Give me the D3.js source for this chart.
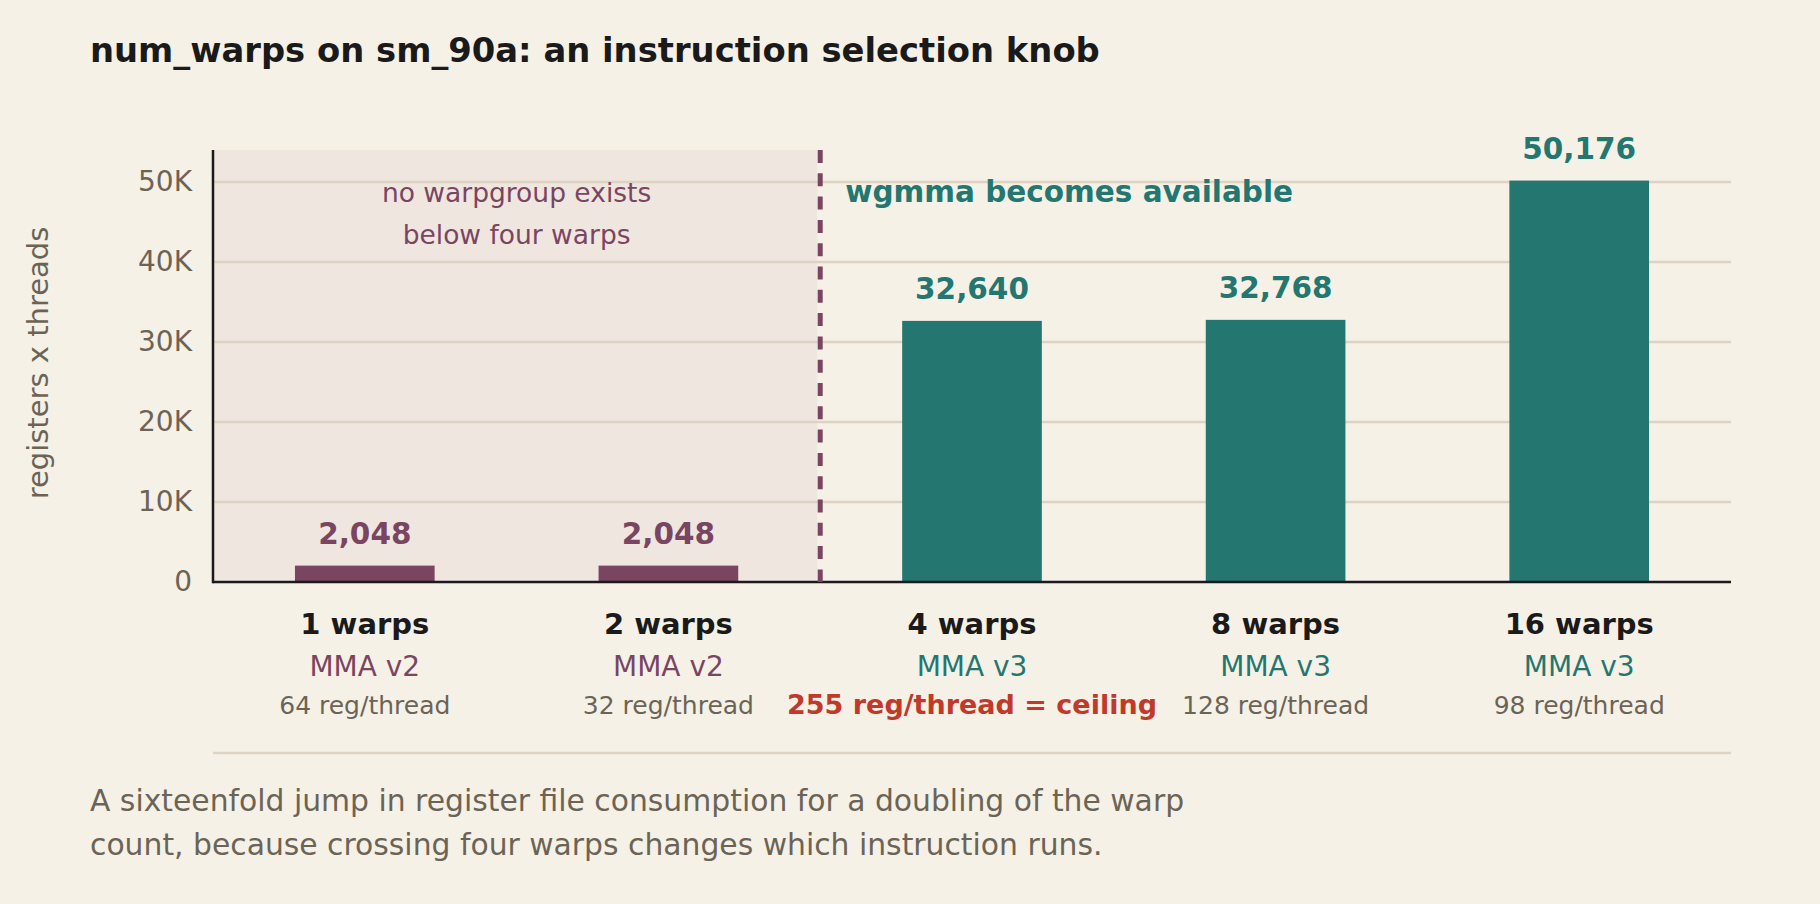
<!DOCTYPE html>
<html>
<head>
<meta charset="utf-8">
<script src="https://cdn.jsdelivr.net/npm/d3@7"></script>
<style>
  html, body { margin: 0; padding: 0; background: #f6f1e7; }
  svg { display: block; font-family: "DejaVu Sans", sans-serif; }
</style>
</head>
<body>
<div id="svg-container"></div>
<script>
// data
const warps = ["1 warps", "2 warps", "4 warps", "8 warps", "16 warps"];
const regFile = [2048, 2048, 32640, 32768, 50176];
const mmaVersion = ["MMA v2", "MMA v2", "MMA v3", "MMA v3", "MMA v3"];
const regPerThread = [64, 32, 255, 128, 98];
const regCeiling = 255;
const yTicks = [0, 10000, 20000, 30000, 40000, 50000];

const width = 1820, height = 904;
const margin = { top: 150, right: 89, bottom: 322, left: 213 };

const purple = "#7a4561", teal = "#237770", red = "#c0392b";
const ink = "#1a1a1a", muted = "#6b6456", grid = "#ddd3c0";

const svg = d3.select("#svg-container").append("svg")
    .attr("width", width).attr("height", height);

svg.append("rect").attr("width", width).attr("height", height).attr("fill", "#f6f1e7");

// scales
const xScale = d3.scaleBand().domain(warps)
    .range([margin.left, width - margin.right])
    .paddingInner(0.54).paddingOuter(0.27);
const yScale = d3.scaleLinear().domain([0, 54000])
    .range([height - margin.bottom, margin.top]);
const colorOf = (v) => v === "MMA v2" ? purple : teal;

const rows = warps.map((w, i) => ({ w, v: regFile[i], mma: mmaVersion[i], reg: regPerThread[i] }));

// shaded region: before warpgroups exist
const splitX = xScale(warps[2]) - xScale.step() * xScale.paddingInner() / 2;
svg.append("rect")
    .attr("x", margin.left).attr("y", margin.top)
    .attr("width", splitX - 3 - margin.left)
    .attr("height", yScale(0) - margin.top)
    .attr("fill", "#efe6e0");

// grid
svg.append("g").selectAll("line")
    .data(yTicks.filter((d) => d > 0))
    .join("line")
    .attr("x1", margin.left).attr("x2", width - margin.right)
    .attr("y1", (d) => yScale(d)).attr("y2", (d) => yScale(d))
    .attr("stroke", grid).attr("stroke-width", 2.5);

// y axis
const yAxis = d3.axisLeft(yScale).tickValues(yTicks)
    .tickFormat((d) => d === 0 ? "0" : d / 1000 + "K")
    .tickSize(0).tickPadding(21);
const gy = svg.append("g").attr("transform", `translate(${margin.left},0)`).call(yAxis);
gy.select(".domain").remove();
gy.selectAll("text").attr("fill", muted).attr("font-size", 28).attr("font-family", "DejaVu Sans");

svg.append("text")
    .attr("transform", `translate(48,363) rotate(-90)`)
    .attr("text-anchor", "middle")
    .attr("fill", muted).attr("font-size", 29)
    .text("registers x threads");

// bars
svg.append("g").selectAll("rect")
    .data(rows)
    .join("rect")
    .attr("x", (d) => xScale(d.w))
    .attr("y", (d) => yScale(d.v))
    .attr("width", xScale.bandwidth())
    .attr("height", (d) => yScale(0) - yScale(d.v))
    .attr("fill", (d) => colorOf(d.mma));

// value labels
svg.append("g").selectAll("text")
    .data(rows)
    .join("text")
    .attr("x", (d) => xScale(d.w) + xScale.bandwidth() / 2)
    .attr("y", (d) => yScale(d.v) - 22)
    .attr("text-anchor", "middle")
    .attr("font-weight", "bold").attr("font-size", 29.5)
    .attr("fill", (d) => colorOf(d.mma))
    .text((d) => d3.format(",")(d.v));

// axis lines
svg.append("line")
    .attr("x1", margin.left).attr("x2", width - margin.right)
    .attr("y1", yScale(0)).attr("y2", yScale(0))
    .attr("stroke", ink).attr("stroke-width", 2.5);
svg.append("line")
    .attr("x1", margin.left).attr("x2", margin.left)
    .attr("y1", margin.top).attr("y2", yScale(0) + 1.25)
    .attr("stroke", ink).attr("stroke-width", 2.5);

// divider
svg.append("line")
    .attr("x1", splitX).attr("x2", splitX)
    .attr("y1", margin.top).attr("y2", yScale(0))
    .attr("stroke", purple).attr("stroke-width", 5)
    .attr("stroke-dasharray", "13,10.3");

// annotations
const noteX = (margin.left + splitX) / 2;
svg.append("text").attr("x", noteX).attr("y", 202)
    .attr("text-anchor", "middle").attr("fill", purple).attr("font-size", 26.5)
    .text("no warpgroup exists");
svg.append("text").attr("x", noteX).attr("y", 244)
    .attr("text-anchor", "middle").attr("fill", purple).attr("font-size", 26.5)
    .text("below four warps");
svg.append("text").attr("x", splitX + 25).attr("y", 202)
    .attr("fill", teal).attr("font-weight", "bold").attr("font-size", 29.5)
    .text("wgmma becomes available");

// category labels
const cat = svg.append("g").selectAll("g")
    .data(rows)
    .join("g")
    .attr("transform", (d) => `translate(${xScale(d.w) + xScale.bandwidth() / 2},0)`)
    .attr("text-anchor", "middle");
cat.append("text").attr("y", 634)
    .attr("font-weight", "bold").attr("font-size", 29).attr("fill", ink)
    .text((d) => d.w);
cat.append("text").attr("y", 676)
    .attr("font-size", 28).attr("fill", (d) => colorOf(d.mma))
    .text((d) => d.mma);
cat.append("text").attr("y", 714)
    .attr("font-size", (d) => d.reg === regCeiling ? 27 : 25)
    .attr("font-weight", (d) => d.reg === regCeiling ? "bold" : "normal")
    .attr("fill", (d) => d.reg === regCeiling ? red : muted)
    .text((d) => d.reg === regCeiling ? `${d.reg} reg/thread = ceiling` : `${d.reg} reg/thread`);

// separator
svg.append("line")
    .attr("x1", margin.left).attr("x2", width - margin.right)
    .attr("y1", 753).attr("y2", 753)
    .attr("stroke", grid).attr("stroke-width", 2.5);

// title + footnote
svg.append("text").attr("x", 90).attr("y", 62)
    .attr("font-weight", "bold").attr("font-size", 33.8).attr("fill", ink)
    .text("num_warps on sm_90a: an instruction selection knob");
svg.append("text").attr("x", 90).attr("y", 811)
    .attr("font-size", 29.8).attr("fill", muted)
    .text("A sixteenfold jump in register file consumption for a doubling of the warp");
svg.append("text").attr("x", 90).attr("y", 855)
    .attr("font-size", 29.8).attr("fill", muted)
    .text("count, because crossing four warps changes which instruction runs.");
</script>
</body>
</html>
